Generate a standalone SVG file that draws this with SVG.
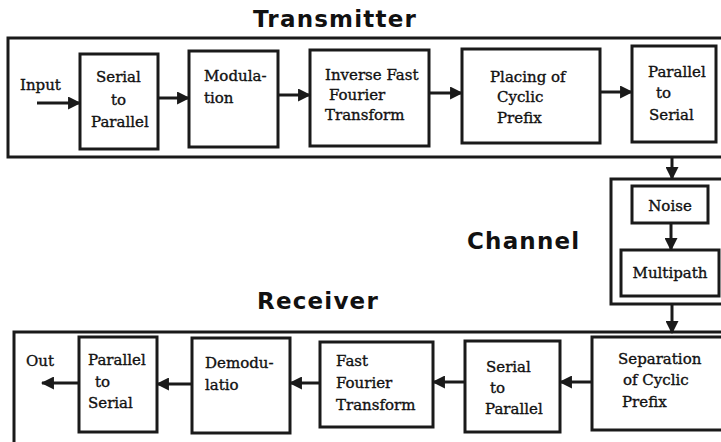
<svg xmlns="http://www.w3.org/2000/svg" width="721" height="442" viewBox="0 0 721 442">
<style>
.frame{fill:none;stroke:#1a1a1a;stroke-width:3}
.box{fill:#fff;stroke:#1a1a1a;stroke-width:3}
.lbl{font-family:"DejaVu Serif","Liberation Serif",serif;font-size:15px;fill:#111;stroke:#111;stroke-width:0.35}
.title{font-family:"DejaVu Sans","Liberation Sans",sans-serif;font-weight:bold;font-size:23px;letter-spacing:1.2px;fill:#111}
.conn{stroke:#1a1a1a;stroke-width:3;fill:none;marker-end:url(#ah)}
</style>
<defs>
<marker id="ah" viewBox="0 0 12 12" refX="11" refY="6" markerWidth="13" markerHeight="13" markerUnits="userSpaceOnUse" orient="auto">
<path d="M0,0 L12,6 L0,12 z" fill="#1a1a1a"/>
</marker>
</defs>
<rect width="721" height="442" fill="#fff"/>

<g id="transmitter">
<text class="title" x="253" y="27">Transmitter</text>
<rect class="frame" x="8" y="38" width="730" height="119"/>
</g>
<g id="channel">
<text class="title" x="467" y="249">Channel</text>
<rect class="frame" x="611" y="179" width="130" height="125"/>
</g>
<g id="receiver">
<text class="title" x="257" y="309">Receiver</text>
<rect class="frame" x="14" y="332" width="730" height="130"/>
</g>

<g id="input"><text class="lbl" x="20" y="90">Input</text></g>
<g id="tx-s2p"><rect class="box" x="80" y="54" width="78" height="95"/>
<text class="lbl" x="96" y="82">Serial</text><text class="lbl" x="111" y="105">to</text><text class="lbl" x="91" y="127">Parallel</text></g>
<g id="tx-mod"><rect class="box" x="189" y="51" width="89" height="96"/>
<text class="lbl" x="204" y="81">Modula-</text><text class="lbl" x="204" y="103">tion</text></g>
<g id="tx-ifft"><rect class="box" x="310" y="50" width="119" height="96"/>
<text class="lbl" x="325" y="80">Inverse Fast</text><text class="lbl" x="329" y="100">Fourier</text><text class="lbl" x="325" y="120">Transform</text></g>
<g id="tx-cp"><rect class="box" x="462" y="49" width="138" height="94"/>
<text class="lbl" x="490" y="82">Placing of</text><text class="lbl" x="497" y="102">Cyclic</text><text class="lbl" x="497" y="123">Prefix</text></g>
<g id="tx-p2s"><rect class="box" x="632" y="46" width="84" height="96"/>
<text class="lbl" x="648" y="77">Parallel</text><text class="lbl" x="656" y="98">to</text><text class="lbl" x="649" y="120">Serial</text></g>

<g id="noise"><rect class="box" x="632" y="186" width="76" height="37"/>
<text class="lbl" x="670" y="211" text-anchor="middle">Noise</text></g>
<g id="multipath"><rect class="box" x="621" y="250" width="98" height="46"/>
<text class="lbl" x="670" y="278" text-anchor="middle">Multipath</text></g>

<g id="out"><text class="lbl" x="26" y="366">Out</text></g>
<g id="rx-p2s"><rect class="box" x="79" y="337" width="78" height="95"/>
<text class="lbl" x="88" y="365">Parallel</text><text class="lbl" x="95" y="387">to</text><text class="lbl" x="88" y="408">Serial</text></g>
<g id="rx-demod"><rect class="box" x="192" y="338" width="98" height="95"/>
<text class="lbl" x="205" y="368">Demodu-</text><text class="lbl" x="205" y="390">latio</text></g>
<g id="rx-fft"><rect class="box" x="320" y="342" width="113" height="85"/>
<text class="lbl" x="336" y="366">Fast</text><text class="lbl" x="336" y="388">Fourier</text><text class="lbl" x="336" y="410">Transform</text></g>
<g id="rx-s2p"><rect class="box" x="465" y="341" width="95" height="91"/>
<text class="lbl" x="486" y="372">Serial</text><text class="lbl" x="490" y="393">to</text><text class="lbl" x="485" y="414">Parallel</text></g>
<g id="rx-cp"><rect class="box" x="592" y="337" width="140" height="93"/>
<text class="lbl" x="618" y="364">Separation</text><text class="lbl" x="623" y="385">of Cyclic</text><text class="lbl" x="622" y="407">Prefix</text></g>

<g id="connectors">
<line class="conn" x1="37" y1="103" x2="80" y2="103"/>
<line class="conn" x1="158" y1="98" x2="189" y2="98"/>
<line class="conn" x1="278" y1="95" x2="310" y2="95"/>
<line class="conn" x1="429" y1="93" x2="462" y2="93"/>
<line class="conn" x1="600" y1="92" x2="632" y2="92"/>
<line class="conn" x1="672" y1="157" x2="672" y2="179"/>
<line class="conn" x1="671" y1="223" x2="671" y2="250"/>
<line class="conn" x1="672" y1="304" x2="672" y2="333"/>
<line class="conn" x1="592" y1="382" x2="560" y2="382"/>
<line class="conn" x1="465" y1="382" x2="433" y2="382"/>
<line class="conn" x1="320" y1="383" x2="290" y2="383"/>
<line class="conn" x1="192" y1="384" x2="157" y2="384"/>
<line class="conn" x1="79" y1="383" x2="42" y2="383"/>
</g>
</svg>
